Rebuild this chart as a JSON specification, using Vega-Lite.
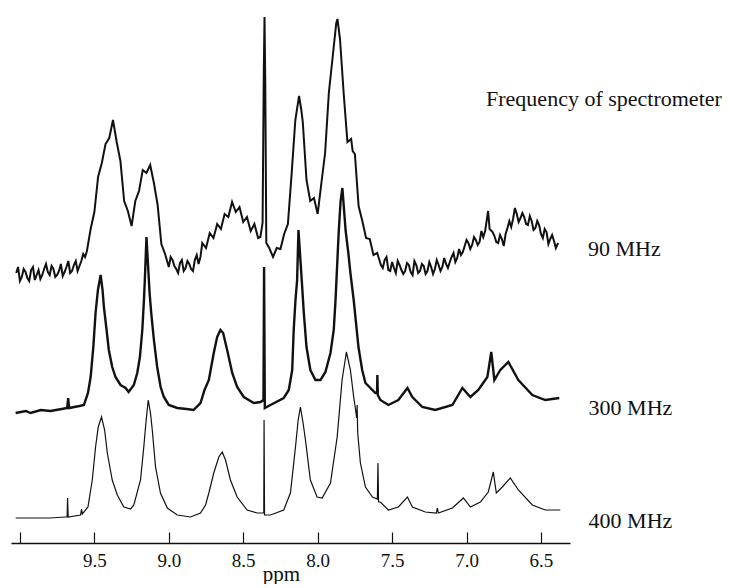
{
  "$schema": "https://vega.github.io/schema/vega-lite/v6.json",
  "width": 559,
  "height": 533,
  "padding": {"left": 10, "top": 10, "right": 0, "bottom": 0},
  "background": "white",
  "config": {"view": {"stroke": null}},
  "datasets": {
    "spec": [
      {"s":"90","x":10.025,"y":270},{"s":"90","x":10.0125,"y":276},{"s":"90","x":10.0,"y":262},{"s":"90","x":9.9875,"y":266},{"s":"90","x":9.975,"y":274},{"s":"90","x":9.9625,"y":271},{"s":"90","x":9.95,"y":265},{"s":"90","x":9.9375,"y":262},{"s":"90","x":9.925,"y":273},{"s":"90","x":9.9125,"y":276},{"s":"90","x":9.9,"y":263},{"s":"90","x":9.8875,"y":268},{"s":"90","x":9.875,"y":273},{"s":"90","x":9.8625,"y":264},{"s":"90","x":9.85,"y":268},{"s":"90","x":9.8375,"y":274},{"s":"90","x":9.825,"y":279},{"s":"90","x":9.8125,"y":271},{"s":"90","x":9.8,"y":268},{"s":"90","x":9.7875,"y":277},{"s":"90","x":9.775,"y":274},{"s":"90","x":9.7625,"y":266},{"s":"90","x":9.75,"y":268},{"s":"90","x":9.7375,"y":272},{"s":"90","x":9.725,"y":279},{"s":"90","x":9.7125,"y":267},{"s":"90","x":9.7,"y":271},{"s":"90","x":9.6875,"y":276},{"s":"90","x":9.675,"y":282},{"s":"90","x":9.6625,"y":270},{"s":"90","x":9.65,"y":272},{"s":"90","x":9.6375,"y":278},{"s":"90","x":9.625,"y":282},{"s":"90","x":9.6125,"y":272},{"s":"90","x":9.6,"y":277},{"s":"90","x":9.5875,"y":282},{"s":"90","x":9.575,"y":289},{"s":"90","x":9.5625,"y":286},{"s":"90","x":9.55,"y":292},{"s":"90","x":9.525,"y":314},{"s":"90","x":9.5,"y":331},{"s":"90","x":9.475,"y":366},{"s":"90","x":9.45,"y":380},{"s":"90","x":9.425,"y":399},{"s":"90","x":9.4,"y":405},{"s":"90","x":9.375,"y":423},{"s":"90","x":9.35,"y":401},{"s":"90","x":9.325,"y":382},{"s":"90","x":9.3,"y":342},{"s":"90","x":9.275,"y":332},{"s":"90","x":9.25,"y":317},{"s":"90","x":9.225,"y":342},{"s":"90","x":9.2,"y":352},{"s":"90","x":9.175,"y":373},{"s":"90","x":9.15,"y":370},{"s":"90","x":9.125,"y":378},{"s":"90","x":9.1,"y":360},{"s":"90","x":9.075,"y":338},{"s":"90","x":9.05,"y":299},{"s":"90","x":9.025,"y":289},{"s":"90","x":9.0,"y":276},{"s":"90","x":8.9875,"y":286},{"s":"90","x":8.975,"y":283},{"s":"90","x":8.9625,"y":277},{"s":"90","x":8.95,"y":274},{"s":"90","x":8.9375,"y":270},{"s":"90","x":8.925,"y":280},{"s":"90","x":8.9125,"y":283},{"s":"90","x":8.9,"y":272},{"s":"90","x":8.8875,"y":275},{"s":"90","x":8.875,"y":282},{"s":"90","x":8.8625,"y":279},{"s":"90","x":8.85,"y":274},{"s":"90","x":8.8375,"y":272},{"s":"90","x":8.825,"y":283},{"s":"90","x":8.8125,"y":288},{"s":"90","x":8.8,"y":279},{"s":"90","x":8.7875,"y":286},{"s":"90","x":8.775,"y":300},{"s":"90","x":8.75,"y":295},{"s":"90","x":8.725,"y":310},{"s":"90","x":8.7,"y":305},{"s":"90","x":8.675,"y":319},{"s":"90","x":8.65,"y":314},{"s":"90","x":8.625,"y":329},{"s":"90","x":8.6,"y":326},{"s":"90","x":8.575,"y":341},{"s":"90","x":8.55,"y":331},{"s":"90","x":8.525,"y":336},{"s":"90","x":8.5,"y":321},{"s":"90","x":8.475,"y":326},{"s":"90","x":8.45,"y":312},{"s":"90","x":8.425,"y":319},{"s":"90","x":8.4,"y":305},{"s":"90","x":8.385,"y":306},{"s":"90","x":8.37,"y":320},{"s":"90","x":8.362,"y":470},{"s":"90","x":8.357,"y":526},{"s":"90","x":8.352,"y":460},{"s":"90","x":8.345,"y":300},{"s":"90","x":8.325,"y":295},{"s":"90","x":8.3,"y":286},{"s":"90","x":8.275,"y":295},{"s":"90","x":8.25,"y":294},{"s":"90","x":8.225,"y":309},{"s":"90","x":8.2,"y":319},{"s":"90","x":8.175,"y":369},{"s":"90","x":8.15,"y":423},{"s":"90","x":8.125,"y":447},{"s":"90","x":8.11,"y":433},{"s":"90","x":8.1,"y":421},{"s":"90","x":8.075,"y":363},{"s":"90","x":8.05,"y":342},{"s":"90","x":8.025,"y":345},{"s":"90","x":8.0,"y":329},{"s":"90","x":7.975,"y":360},{"s":"90","x":7.95,"y":390},{"s":"90","x":7.925,"y":450},{"s":"90","x":7.9,"y":485},{"s":"90","x":7.875,"y":520},{"s":"90","x":7.867,"y":524},{"s":"90","x":7.85,"y":504},{"s":"90","x":7.825,"y":449},{"s":"90","x":7.8,"y":401},{"s":"90","x":7.775,"y":404},{"s":"90","x":7.765,"y":392},{"s":"90","x":7.75,"y":389},{"s":"90","x":7.725,"y":337},{"s":"90","x":7.7,"y":322},{"s":"90","x":7.675,"y":305},{"s":"90","x":7.65,"y":304},{"s":"90","x":7.625,"y":288},{"s":"90","x":7.6,"y":290},{"s":"90","x":7.5875,"y":284},{"s":"90","x":7.575,"y":278},{"s":"90","x":7.5625,"y":275},{"s":"90","x":7.55,"y":283},{"s":"90","x":7.5375,"y":286},{"s":"90","x":7.525,"y":273},{"s":"90","x":7.5125,"y":272},{"s":"90","x":7.5,"y":281},{"s":"90","x":7.4875,"y":275},{"s":"90","x":7.475,"y":270},{"s":"90","x":7.4625,"y":282},{"s":"90","x":7.45,"y":278},{"s":"90","x":7.4375,"y":273},{"s":"90","x":7.425,"y":269},{"s":"90","x":7.4125,"y":272},{"s":"90","x":7.4,"y":280},{"s":"90","x":7.3875,"y":278},{"s":"90","x":7.375,"y":271},{"s":"90","x":7.3625,"y":268},{"s":"90","x":7.35,"y":282},{"s":"90","x":7.3375,"y":278},{"s":"90","x":7.325,"y":270},{"s":"90","x":7.3125,"y":272},{"s":"90","x":7.3,"y":279},{"s":"90","x":7.2875,"y":277},{"s":"90","x":7.275,"y":269},{"s":"90","x":7.2625,"y":272},{"s":"90","x":7.25,"y":281},{"s":"90","x":7.2375,"y":276},{"s":"90","x":7.225,"y":269},{"s":"90","x":7.2125,"y":274},{"s":"90","x":7.2,"y":283},{"s":"90","x":7.1875,"y":278},{"s":"90","x":7.175,"y":272},{"s":"90","x":7.1625,"y":276},{"s":"90","x":7.15,"y":285},{"s":"90","x":7.1375,"y":279},{"s":"90","x":7.125,"y":275},{"s":"90","x":7.1125,"y":281},{"s":"90","x":7.1,"y":286},{"s":"90","x":7.0875,"y":290},{"s":"90","x":7.075,"y":281},{"s":"90","x":7.0625,"y":285},{"s":"90","x":7.05,"y":294},{"s":"90","x":7.0375,"y":288},{"s":"90","x":7.025,"y":291},{"s":"90","x":7.0125,"y":297},{"s":"90","x":7.0,"y":303},{"s":"90","x":6.9875,"y":300},{"s":"90","x":6.975,"y":294},{"s":"90","x":6.9625,"y":298},{"s":"90","x":6.95,"y":306},{"s":"90","x":6.9375,"y":303},{"s":"90","x":6.925,"y":298},{"s":"90","x":6.9125,"y":301},{"s":"90","x":6.9,"y":312},{"s":"90","x":6.8875,"y":306},{"s":"90","x":6.875,"y":312},{"s":"90","x":6.855,"y":332},{"s":"90","x":6.845,"y":314},{"s":"90","x":6.825,"y":311},{"s":"90","x":6.8125,"y":307},{"s":"90","x":6.8,"y":301},{"s":"90","x":6.7875,"y":300},{"s":"90","x":6.775,"y":308},{"s":"90","x":6.7625,"y":304},{"s":"90","x":6.75,"y":297},{"s":"90","x":6.7375,"y":309},{"s":"90","x":6.725,"y":315},{"s":"90","x":6.7125,"y":322},{"s":"90","x":6.7,"y":316},{"s":"90","x":6.6875,"y":324},{"s":"90","x":6.675,"y":335},{"s":"90","x":6.6625,"y":329},{"s":"90","x":6.65,"y":321},{"s":"90","x":6.6375,"y":325},{"s":"90","x":6.625,"y":330},{"s":"90","x":6.6125,"y":326},{"s":"90","x":6.6,"y":319},{"s":"90","x":6.5875,"y":318},{"s":"90","x":6.575,"y":327},{"s":"90","x":6.5625,"y":322},{"s":"90","x":6.55,"y":313},{"s":"90","x":6.5375,"y":315},{"s":"90","x":6.525,"y":322},{"s":"90","x":6.5125,"y":318},{"s":"90","x":6.5,"y":309},{"s":"90","x":6.4875,"y":305},{"s":"90","x":6.475,"y":314},{"s":"90","x":6.4625,"y":311},{"s":"90","x":6.45,"y":299},{"s":"90","x":6.4375,"y":304},{"s":"90","x":6.425,"y":308},{"s":"90","x":6.4125,"y":302},{"s":"90","x":6.4,"y":295},{"s":"90","x":6.385,"y":300},

      {"s":"300","x":10.029,"y":130},{"s":"300","x":9.96,"y":132},{"s":"300","x":9.928,"y":130},{"s":"300","x":9.86,"y":133},{"s":"300","x":9.794,"y":132},{"s":"300","x":9.72,"y":134},{"s":"300","x":9.683,"y":135},{"s":"300","x":9.676,"y":145},{"s":"300","x":9.669,"y":135},{"s":"300","x":9.6,"y":137},{"s":"300","x":9.57,"y":138},{"s":"300","x":9.543,"y":150},{"s":"300","x":9.525,"y":166},{"s":"300","x":9.507,"y":196},{"s":"300","x":9.492,"y":230},{"s":"300","x":9.476,"y":253},{"s":"300","x":9.458,"y":268},{"s":"300","x":9.445,"y":253},{"s":"300","x":9.436,"y":236},{"s":"300","x":9.418,"y":213},{"s":"300","x":9.403,"y":193},{"s":"300","x":9.38,"y":176},{"s":"300","x":9.358,"y":166},{"s":"300","x":9.324,"y":158},{"s":"300","x":9.29,"y":155},{"s":"300","x":9.27,"y":151},{"s":"300","x":9.235,"y":158},{"s":"300","x":9.212,"y":170},{"s":"300","x":9.194,"y":186},{"s":"300","x":9.178,"y":213},{"s":"300","x":9.167,"y":243},{"s":"300","x":9.161,"y":263},{"s":"300","x":9.15,"y":306},{"s":"300","x":9.129,"y":250},{"s":"300","x":9.118,"y":230},{"s":"300","x":9.1,"y":203},{"s":"300","x":9.078,"y":176},{"s":"300","x":9.055,"y":156},{"s":"300","x":9.033,"y":146},{"s":"300","x":9.0,"y":138},{"s":"300","x":8.943,"y":135},{"s":"300","x":8.88,"y":134},{"s":"300","x":8.834,"y":133},{"s":"300","x":8.787,"y":140},{"s":"300","x":8.76,"y":153},{"s":"300","x":8.731,"y":163},{"s":"300","x":8.698,"y":190},{"s":"300","x":8.675,"y":206},{"s":"300","x":8.653,"y":213},{"s":"300","x":8.635,"y":210},{"s":"300","x":8.608,"y":193},{"s":"300","x":8.574,"y":170},{"s":"300","x":8.541,"y":156},{"s":"300","x":8.496,"y":146},{"s":"300","x":8.429,"y":140},{"s":"300","x":8.384,"y":141},{"s":"300","x":8.364,"y":143},{"s":"300","x":8.36,"y":276},{"s":"300","x":8.355,"y":135},{"s":"300","x":8.317,"y":138},{"s":"300","x":8.228,"y":145},{"s":"300","x":8.194,"y":153},{"s":"300","x":8.171,"y":173},{"s":"300","x":8.161,"y":213},{"s":"300","x":8.149,"y":243},{"s":"300","x":8.138,"y":263},{"s":"300","x":8.129,"y":313},{"s":"300","x":8.104,"y":256},{"s":"300","x":8.093,"y":230},{"s":"300","x":8.075,"y":196},{"s":"300","x":8.049,"y":173},{"s":"300","x":8.015,"y":163},{"s":"300","x":7.981,"y":163},{"s":"300","x":7.948,"y":171},{"s":"300","x":7.914,"y":190},{"s":"300","x":7.892,"y":213},{"s":"300","x":7.88,"y":243},{"s":"300","x":7.859,"y":310},{"s":"300","x":7.846,"y":342},{"s":"300","x":7.834,"y":355},{"s":"300","x":7.812,"y":312},{"s":"300","x":7.794,"y":290},{"s":"300","x":7.78,"y":270},{"s":"300","x":7.758,"y":243},{"s":"300","x":7.726,"y":196},{"s":"300","x":7.701,"y":173},{"s":"300","x":7.679,"y":160},{"s":"300","x":7.612,"y":150},{"s":"300","x":7.601,"y":150},{"s":"300","x":7.599,"y":168},{"s":"300","x":7.596,"y":148},{"s":"300","x":7.579,"y":143},{"s":"300","x":7.525,"y":138},{"s":"300","x":7.458,"y":143},{"s":"300","x":7.397,"y":155},{"s":"300","x":7.364,"y":146},{"s":"300","x":7.297,"y":136},{"s":"300","x":7.21,"y":133},{"s":"300","x":7.095,"y":138},{"s":"300","x":7.028,"y":155},{"s":"300","x":6.974,"y":146},{"s":"300","x":6.921,"y":153},{"s":"300","x":6.86,"y":166},{"s":"300","x":6.834,"y":191},{"s":"300","x":6.813,"y":163},{"s":"300","x":6.773,"y":173},{"s":"300","x":6.719,"y":181},{"s":"300","x":6.652,"y":163},{"s":"300","x":6.558,"y":148},{"s":"300","x":6.471,"y":143},{"s":"300","x":6.377,"y":145},

      {"s":"400","x":10.029,"y":25},{"s":"400","x":9.8,"y":25},{"s":"400","x":9.693,"y":26},{"s":"400","x":9.683,"y":26},{"s":"400","x":9.68,"y":45},{"s":"400","x":9.676,"y":26},{"s":"400","x":9.593,"y":28},{"s":"400","x":9.586,"y":34},{"s":"400","x":9.581,"y":29},{"s":"400","x":9.543,"y":36},{"s":"400","x":9.514,"y":63},{"s":"400","x":9.492,"y":96},{"s":"400","x":9.474,"y":116},{"s":"400","x":9.452,"y":126},{"s":"400","x":9.431,"y":113},{"s":"400","x":9.413,"y":90},{"s":"400","x":9.38,"y":63},{"s":"400","x":9.346,"y":48},{"s":"400","x":9.302,"y":36},{"s":"400","x":9.257,"y":34},{"s":"400","x":9.235,"y":38},{"s":"400","x":9.19,"y":63},{"s":"400","x":9.168,"y":96},{"s":"400","x":9.152,"y":123},{"s":"400","x":9.138,"y":143},{"s":"400","x":9.123,"y":130},{"s":"400","x":9.111,"y":113},{"s":"400","x":9.089,"y":76},{"s":"400","x":9.056,"y":50},{"s":"400","x":9.01,"y":35},{"s":"400","x":8.943,"y":28},{"s":"400","x":8.854,"y":26},{"s":"400","x":8.787,"y":30},{"s":"400","x":8.753,"y":38},{"s":"400","x":8.731,"y":50},{"s":"400","x":8.698,"y":70},{"s":"400","x":8.664,"y":86},{"s":"400","x":8.641,"y":91},{"s":"400","x":8.619,"y":83},{"s":"400","x":8.586,"y":63},{"s":"400","x":8.541,"y":46},{"s":"400","x":8.474,"y":33},{"s":"400","x":8.406,"y":30},{"s":"400","x":8.371,"y":30},{"s":"400","x":8.362,"y":30},{"s":"400","x":8.36,"y":123},{"s":"400","x":8.357,"y":28},{"s":"400","x":8.317,"y":28},{"s":"400","x":8.228,"y":33},{"s":"400","x":8.183,"y":50},{"s":"400","x":8.149,"y":96},{"s":"400","x":8.131,"y":123},{"s":"400","x":8.116,"y":136},{"s":"400","x":8.098,"y":120},{"s":"400","x":8.082,"y":103},{"s":"400","x":8.049,"y":63},{"s":"400","x":8.004,"y":46},{"s":"400","x":7.97,"y":45},{"s":"400","x":7.914,"y":60},{"s":"400","x":7.869,"y":106},{"s":"400","x":7.836,"y":163},{"s":"400","x":7.807,"y":191},{"s":"400","x":7.78,"y":173},{"s":"400","x":7.758,"y":146},{"s":"400","x":7.747,"y":135},{"s":"400","x":7.738,"y":125},{"s":"400","x":7.735,"y":138},{"s":"400","x":7.731,"y":110},{"s":"400","x":7.713,"y":80},{"s":"400","x":7.679,"y":56},{"s":"400","x":7.632,"y":46},{"s":"400","x":7.599,"y":44},{"s":"400","x":7.595,"y":80},{"s":"400","x":7.591,"y":41},{"s":"400","x":7.579,"y":41},{"s":"400","x":7.525,"y":33},{"s":"400","x":7.458,"y":36},{"s":"400","x":7.397,"y":46},{"s":"400","x":7.364,"y":36},{"s":"400","x":7.277,"y":31},{"s":"400","x":7.203,"y":30},{"s":"400","x":7.196,"y":35},{"s":"400","x":7.189,"y":30},{"s":"400","x":7.095,"y":35},{"s":"400","x":7.021,"y":45},{"s":"400","x":6.974,"y":36},{"s":"400","x":6.907,"y":41},{"s":"400","x":6.854,"y":51},{"s":"400","x":6.82,"y":71},{"s":"400","x":6.8,"y":50},{"s":"400","x":6.76,"y":56},{"s":"400","x":6.706,"y":65},{"s":"400","x":6.652,"y":53},{"s":"400","x":6.558,"y":38},{"s":"400","x":6.471,"y":33},{"s":"400","x":6.37,"y":33}
    ],
    "labels": [
      {"t":"Frequency of spectrometer","x":6.869,"y":437},
      {"t":"90 MHz","x":6.184,"y":287},
      {"t":"300 MHz","x":6.18,"y":128},
      {"t":"400 MHz","x":6.18,"y":15}
    ]
  },
  "encoding": {
    "x": {"field":"x","type":"quantitative","scale":{"domain":[6.305,10.06],"reverse":true,"nice":false,"zero":false},
      "axis":{"values":[10,9.5,9,8.5,8,7.5,7,6.5],"labelExpr":"datum.value > 9.9 ? '' : format(datum.value, '.1f')","title":"ppm","grid":false,"domainColor":"#111","domainWidth":1.5,"tickColor":"#111","tickWidth":1.2,"tickSize":-11,"labelFont":"Liberation Serif","labelFontSize":19,"labelColor":"#111","labelPadding":19,"labelFlush":false,"titleFont":"Liberation Serif","titleFontSize":21,"titleFontWeight":"normal","titleColor":"#111","titleBaseline":"alphabetic","titleY":37,"titleX":270}},
    "y": {"field":"y","type":"quantitative","scale":{"domain":[0,533],"nice":false,"zero":false},"axis":null}
  },
  "layer": [
    {"data":{"name":"spec"},"transform":[{"filter":"datum.s === '90'"}],"mark":{"type":"line","color":"#111","strokeWidth":2,"strokeJoin":"miter"}},
    {"data":{"name":"spec"},"transform":[{"filter":"datum.s === '300'"}],"mark":{"type":"line","color":"#111","strokeWidth":2.4}},
    {"data":{"name":"spec"},"transform":[{"filter":"datum.s === '400'"}],"mark":{"type":"line","color":"#111","strokeWidth":1.2}},
    {"data":{"name":"labels"},"mark":{"type":"text","align":"left","baseline":"alphabetic","font":"Liberation Serif","fontSize":22,"color":"#111"},"encoding":{"text":{"field":"t"}}}
  ]
}
